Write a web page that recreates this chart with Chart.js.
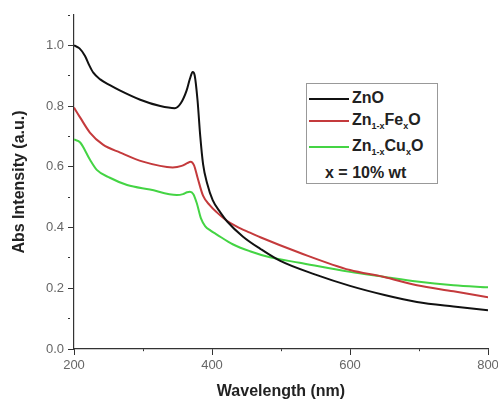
<!DOCTYPE html>
<html>
<head>
<meta charset="utf-8">
<script src="https://cdn.jsdelivr.net/npm/chart.js@4/dist/chart.umd.min.js"></script>
<style>
  body { margin: 0; background: #fff; }
  #wrap { position: relative; width: 498px; height: 401px; }
  #legend {
    position: absolute; left: 306px; top: 83px; width: 130px; height: 99px;
    border: 1px solid #999; background: #fff;
    font: bold 16px "Liberation Sans", Arial, sans-serif; color: #222;
  }
  #legend .row { position: absolute; left: 2px; height: 18px; line-height: 18px; white-space: nowrap; }
  #legend .swatch { display: inline-block; width: 40px; height: 2px; vertical-align: middle; margin-right: 3px; }
  #legend sub { font-size: 9px; vertical-align: -4px; line-height: 0; }
  #legend .note { position: absolute; left: 18px; top: 80px; line-height: 18px; white-space: nowrap; }
</style>
</head>
<body>
<div id="wrap">
  <canvas id="chart" width="498" height="401"></canvas>
  <div id="legend"></div>
</div>
<script>
// ZnO
const znoX = [200, 208, 216, 222, 228, 238, 252, 267, 296, 325, 346, 355, 363, 368, 372, 375, 379, 383, 387, 393, 401, 412, 422, 445, 470, 499, 550, 600, 650, 697, 750, 800];
const znoY = [1.0, 0.99, 0.965, 0.935, 0.91, 0.888, 0.869, 0.851, 0.821, 0.80, 0.793, 0.81, 0.85, 0.89, 0.912, 0.9, 0.82, 0.70, 0.61, 0.545, 0.49, 0.45, 0.42, 0.37, 0.33, 0.29, 0.245, 0.208, 0.178, 0.155, 0.14, 0.128];
// Zn1-xFexO
const feX = [200, 209, 223, 242, 267, 300, 343, 356, 364, 369, 374, 379, 387, 397, 407, 420, 436, 455, 470, 527, 600, 648, 697, 750, 800];
const feY = [0.795, 0.762, 0.713, 0.673, 0.647, 0.617, 0.598, 0.603, 0.612, 0.617, 0.605, 0.565, 0.505, 0.473, 0.45, 0.425, 0.403, 0.383, 0.368, 0.317, 0.26, 0.238, 0.21, 0.19, 0.17];
// Zn1-xCuxO
const cuX = [200, 209, 223, 233, 252, 277, 310, 349, 358, 364, 368, 373, 378, 384, 390, 398, 407, 430, 455, 484, 527, 600, 648, 697, 750, 800];
const cuY = [0.69, 0.68, 0.624, 0.59, 0.564, 0.54, 0.525, 0.507, 0.51, 0.516, 0.518, 0.51, 0.48, 0.43, 0.405, 0.39, 0.377, 0.345, 0.322, 0.302, 0.284, 0.254, 0.238, 0.222, 0.21, 0.203];

const seriesNames = ["ZnO", "Zn<sub>1-x</sub>Fe<sub>x</sub>O", "Zn<sub>1-x</sub>Cu<sub>x</sub>O"];
const seriesColors = ["#111111", "#c43a3c", "#44d444"];
const legendNote = "x = 10% wt";

const xTitle = "Wavelength (nm)";
const yTitle = "Abs Intensity (a.u.)";

const toPoints = (xs, ys) => xs.map((x, i) => ({ x: x, y: ys[i] }));
const FONT = '"Liberation Sans", Arial, sans-serif';

const ctx = document.getElementById("chart").getContext("2d");

const chart = new Chart(ctx, {
  type: "line",
  data: {
    datasets: [
      { label: seriesNames[0], data: toPoints(znoX, znoY), borderColor: seriesColors[0] },
      { label: seriesNames[1], data: toPoints(feX, feY), borderColor: seriesColors[1] },
      { label: seriesNames[2], data: toPoints(cuX, cuY), borderColor: seriesColors[2] },
    ].map(d => ({ ...d, borderWidth: 2, pointRadius: 0, fill: false, cubicInterpolationMode: "monotone" })),
  },
  options: {
    responsive: false,
    animation: false,
    layout: { padding: { top: 15, right: 10, left: 0, bottom: 0 } },
    plugins: { legend: { display: false }, tooltip: { enabled: false } },
    scales: {
      x: {
        type: "linear",
        min: 200,
        max: 800,
        border: { color: "#333", width: 1.2 },
        grid: {
          drawOnChartArea: false,
          tickLength: 6,
          tickColor: "#333",
          tickBorderDash: c => (c.tick && c.tick.value % 200 !== 0 ? [2, 50] : []),
        },
        ticks: {
          stepSize: 100,
          padding: 3,
          maxRotation: 0,
          autoSkip: false,
          color: "#666",
          font: { family: FONT, size: 13 },
          callback: v => (v % 200 === 0 ? String(v) : ""),
        },
        title: {
          display: true,
          text: xTitle,
          color: "#222",
          font: { family: FONT, size: 16, weight: "bold" },
          padding: { top: 0, bottom: 0 },
        },
        afterFit: s => { s.height = 52; s.paddingLeft = 0; s.paddingRight = 0; },
      },
      y: {
        min: 0,
        max: 1.1,
        border: { color: "#333", width: 1.2 },
        grid: {
          drawOnChartArea: false,
          tickLength: 6,
          tickColor: "#333",
          tickBorderDash: c => (c.tick && Math.round(c.tick.value * 10) % 2 !== 0 ? [2, 50] : []),
        },
        ticks: {
          stepSize: 0.1,
          padding: 4,
          autoSkip: false,
          color: "#666",
          font: { family: FONT, size: 13 },
          callback: v => {
            const t = Math.round(v * 10);
            return t % 2 === 0 && t <= 10 ? v.toFixed(1) : "";
          },
        },
        title: {
          display: true,
          text: yTitle,
          color: "#222",
          font: { family: FONT, size: 16, weight: "bold" },
          padding: { top: 10, bottom: 0 },
        },
        afterFit: s => { s.width = 74; s.paddingTop = 0; s.paddingBottom = 0; },
      },
    },
  },
});

// legend with subscripts, built from the datasets
const legend = document.getElementById("legend");
const rowTops = [5, 27, 53];
chart.data.datasets.forEach((d, i) => {
  const row = document.createElement("div");
  row.className = "row";
  row.style.top = rowTops[i] + "px";
  row.innerHTML = `<span class="swatch" style="background:${d.borderColor}"></span>${d.label}`;
  legend.appendChild(row);
});
const note = document.createElement("div");
note.className = "note";
note.textContent = legendNote;
legend.appendChild(note);
</script>
</body>
</html>
